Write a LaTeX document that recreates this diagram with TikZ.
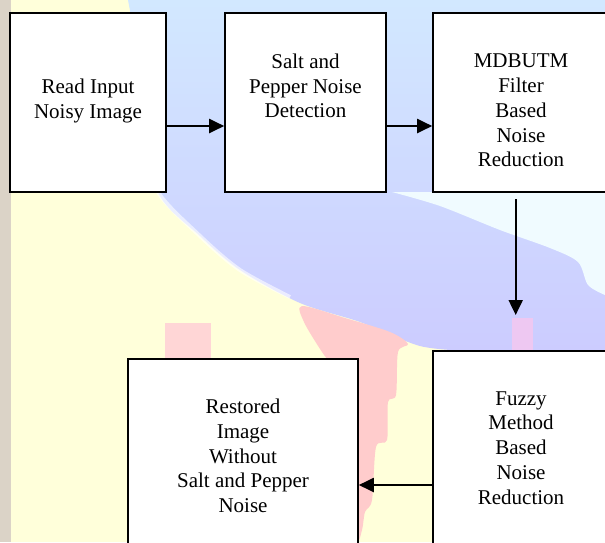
\documentclass[tikz,border=0pt]{standalone}
\usepackage{fontspec}
\setmainfont{Liberation Serif}
\newfontfamily\timesfont{Liberation Serif}
\usetikzlibrary{arrows.meta}
\definecolor{bgyel}{HTML}{FFFFDA}
\definecolor{bgstrip}{HTML}{DBD3C7}
\definecolor{bgcyan}{HTML}{D2E8FF}
\definecolor{bglav}{HTML}{CCCCFF}
\definecolor{bgwhite}{HTML}{F0FBFF}
\definecolor{bgpink}{HTML}{FFCCCC}
\definecolor{bgpinklav}{HTML}{EEC8F2}
\tikzset{
  box/.style={draw=black, line width=1.6pt, fill=white, rectangle, inner sep=0pt},
  lbl/.style={align=center, inner sep=0pt, font=\timesfont\fontsize{21}{24.8}\selectfont},
  arr/.style={draw=black, line width=2pt, -{Triangle[length=15pt,width=14pt]}}
}
\begin{document}
\begin{tikzpicture}[x=1pt,y=-1pt]
\useasboundingbox (0,0) rectangle (605,542);
\clip (0,0) rectangle (605,542);
% background
\fill[bgyel] (0,0) rectangle (605,542);
\fill[bgstrip] (0,0) rectangle (11,542);
\shade[top color=bgcyan, bottom color=bglav]
  (605,0) -- plot[smooth] coordinates {(128,0) (148,110) (158,192) (200,236) (240,270) (300,303) (360,322) (420,346) (470,351)} -- (605,351) -- cycle;
\draw[white, line width=4pt, opacity=0.6]
  plot[smooth] coordinates {(152,150) (158,192) (200,236) (240,270) (290,297)};
\fill[bgwhite]
  plot[smooth] coordinates {(392,192) (440,206) (500,230) (550,248) (578,262) (588,285) (605,295)} -- (605,192) -- cycle;
\fill[bgpink]
  plot[smooth cycle] coordinates {(302,306) (345,318) (390,332) (408,344) (398,352) (396,395) (388,402) (387,440) (376,447) (372,500) (365,512) (362,530) (357,534) (352,420) (342,380) (322,352) (304,322)};
\fill[bgpink!80!white] (165,323) rectangle (211,360);
\fill[bgpinklav] (512,318) rectangle (533,352);
% boxes
\node[box, minimum width=156pt, minimum height=179pt] (b1) at (88,102.5) {};
\node[box, minimum width=161pt, minimum height=179pt] (b2) at (305.5,102.5) {};
\node[box, minimum width=176pt, minimum height=179pt] (b3) at (521,102.5) {};
\node[box, minimum width=176pt, minimum height=220pt] (b4) at (521,461) {};
\node[box, minimum width=230pt, minimum height=211pt] (b5) at (243,464.5) {};
% labels
\node[lbl] (t1) at (88,100.7) {Read Input\\Noisy Image};
\node[lbl] (t2) at (305.5,85.9) {Salt and\\Pepper Noise\\Detection};
\node[lbl] (t3) at (521,110.5) {MDBUTM\\Filter\\Based\\Noise\\Reduction};
\node[lbl] (t4) at (521,448) {Fuzzy\\Method\\Based\\Noise\\Reduction};
\node[lbl] (t5) at (243,455.9) {Restored\\Image\\Without\\Salt and Pepper\\Noise};
% connectors
\coordinate (d1) at (515.7,199);
\coordinate (d2) at (515.7,315);
\draw[arr] ([yshift=-23.5pt]b1.east) -- ([yshift=-23.5pt]b2.west);
\draw[arr] ([yshift=-23.5pt]b2.east) -- ([yshift=-23.5pt]b3.west);
\draw[arr] (d1) -- (d2);
\draw[arr] ([yshift=-24pt]b4.west) -- ([yshift=-24pt]b4.west -| b5.east);
\end{tikzpicture}
\end{document}
